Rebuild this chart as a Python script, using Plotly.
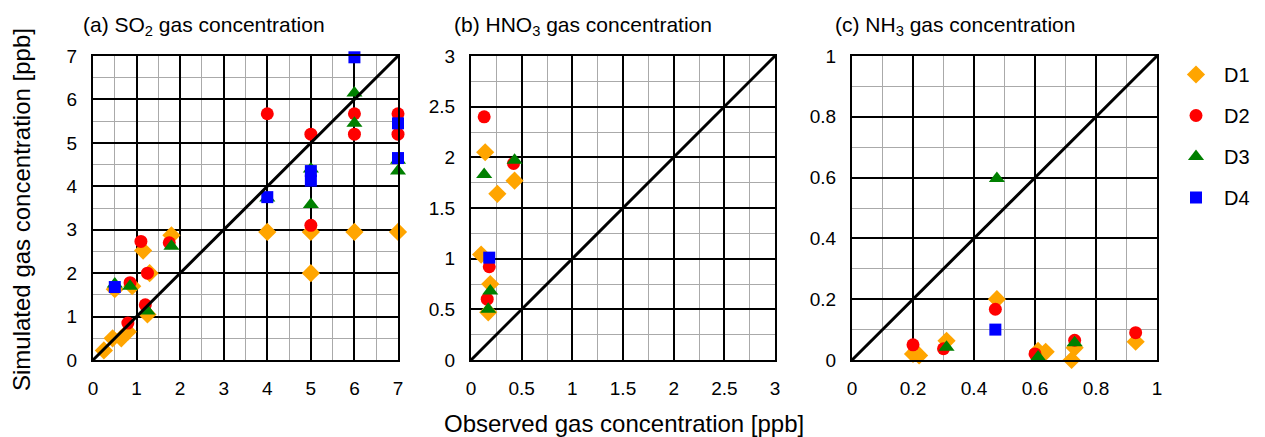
import plotly.graph_objects as go

# ---------------- data ----------------
series_names = ["D1", "D2", "D3", "D4"]
series_colors = ["#FFA500", "#FF0000", "#008000", "#0000FF"]
series_symbols = ["diamond", "circle", "triangle-up", "square"]
series_sizes = [14, 13, 14, 12]

# (a) SO2
so2_d1_x = [0.25, 0.45, 0.65, 0.8, 1.25, 1.3, 0.5, 0.9, 1.15, 1.8, 4, 5, 5, 6, 7]
so2_d1_y = [0.22, 0.5, 0.5, 0.65, 1.05, 2.0, 1.63, 1.7, 2.52, 2.87, 2.95, 2.95, 2.0, 2.95, 2.95]
so2_d2_x = [0.8, 1.2, 1.25, 0.85, 1.1, 1.75, 4, 5, 5, 6, 6, 7, 7]
so2_d2_y = [0.85, 1.27, 2.0, 1.78, 2.73, 2.7, 5.67, 5.2, 3.1, 5.67, 5.2, 5.67, 5.2]
so2_d3_x = [1.25, 0.5, 0.85, 1.8, 4, 5, 5, 6, 6, 7, 7]
so2_d3_y = [1.13, 1.75, 1.7, 2.62, 3.73, 4.4, 3.58, 6.15, 5.45, 4.6, 4.35]
so2_d4_x = [0.5, 4, 5, 5, 6, 7, 7]
so2_d4_y = [1.68, 3.75, 4.35, 4.13, 6.97, 5.45, 4.65]

# (b) HNO3
hno3_d1_x = [0.14, 0.43, 0.26, 0.1, 0.19, 0.17]
hno3_d1_y = [2.05, 1.77, 1.64, 1.04, 0.75, 0.47]
hno3_d2_x = [0.13, 0.42, 0.18, 0.16]
hno3_d2_y = [2.4, 1.94, 0.92, 0.6]
hno3_d3_x = [0.43, 0.13, 0.19, 0.17]
hno3_d3_y = [1.97, 1.83, 0.68, 0.5]
hno3_d4_x = [0.18]
hno3_d4_y = [1.01]

# (c) NH3
nh3_d1_x = [0.2, 0.22, 0.31, 0.475, 0.61, 0.635, 0.72, 0.73, 0.93]
nh3_d1_y = [0.02, 0.015, 0.063, 0.2, 0.03, 0.027, 0.0, 0.04, 0.06]
nh3_d2_x = [0.2, 0.3, 0.47, 0.6, 0.73, 0.93]
nh3_d2_y = [0.05, 0.037, 0.167, 0.02, 0.065, 0.09]
nh3_d3_x = [0.31, 0.475, 0.61, 0.73]
nh3_d3_y = [0.042, 0.597, 0.01, 0.057]
nh3_d4_x = [0.47]
nh3_d4_y = [0.1]

panel_titles = ["(a) SO<sub>2</sub> gas concentration",
                "(b) HNO<sub>3</sub> gas concentration",
                "(c) NH<sub>3</sub> gas concentration"]
panel_max = [7, 3, 1]
panel_major = [1, 0.5, 0.2]
panel_minor = [0.5, 0.25, 0.1]
x_title = "Observed gas concentration [ppb]"
y_title = "Simulated gas concentration [ppb]"

panels = [
    [(so2_d1_x, so2_d1_y), (so2_d2_x, so2_d2_y), (so2_d3_x, so2_d3_y), (so2_d4_x, so2_d4_y)],
    [(hno3_d1_x, hno3_d1_y), (hno3_d2_x, hno3_d2_y), (hno3_d3_x, hno3_d3_y), (hno3_d4_x, hno3_d4_y)],
    [(nh3_d1_x, nh3_d1_y), (nh3_d2_x, nh3_d2_y), (nh3_d3_x, nh3_d3_y), (nh3_d4_x, nh3_d4_y)],
]

# ---------------- layout geometry ----------------
W, H = 1265, 437
x_px = [(93, 398), (471, 775), (852, 1157)]
y_px = (56, 360)
title_left_px = [81, 452, 833]
FONT = "Liberation Sans, Arial, sans-serif"

fig = go.Figure()

for p in range(3):
    ax = "" if p == 0 else str(p + 1)
    xref = "x" + ax
    yref = "y" + ax
    for s in range(4):
        xs, ys = panels[p][s]
        fig.add_trace(go.Scatter(
            x=xs, y=ys, mode="markers", xaxis=xref, yaxis=yref,
            name=series_names[s], legendgroup=series_names[s],
            showlegend=(p == 0), cliponaxis=False,
            marker=dict(symbol=series_symbols[s], color=series_colors[s],
                        size=series_sizes[s], line=dict(width=0)),
            hoverinfo="x+y",
        ))
    # 1:1 line
    fig.add_trace(go.Scatter(
        x=[0, panel_max[p]], y=[0, panel_max[p]], mode="lines",
        xaxis=xref, yaxis=yref, showlegend=False, cliponaxis=False,
        line=dict(color="black", width=3), hoverinfo="skip",
    ))

    common = dict(
        range=[0, panel_max[p]], dtick=panel_major[p], tick0=0,
        showgrid=True, gridcolor="black", gridwidth=2,
        minor=dict(dtick=panel_minor[p], tick0=0, showgrid=True,
                   gridcolor="#AAAAAA", gridwidth=1, ticks=""),
        showline=True, linecolor="black", linewidth=2, mirror=True,
        ticks="", zeroline=False, ticklabelstandoff=10, automargin=False,
        tickfont=dict(family=FONT, size=19, color="black"),
        fixedrange=True,
    )
    fig.layout["xaxis" + ax] = dict(
        domain=[x_px[p][0] / W, x_px[p][1] / W], anchor=yref, **common)
    fig.layout["yaxis" + ax] = dict(
        domain=[1 - y_px[1] / H, 1 - y_px[0] / H], anchor=xref, **common)

    fig.add_annotation(
        text=panel_titles[p], xref="paper", yref="paper",
        x=title_left_px[p] / W, y=1 - 26 / H, xanchor="left", yanchor="middle",
        showarrow=False, font=dict(family=FONT, size=21, color="black"),
    )

fig.add_annotation(text=x_title, xref="paper", yref="paper",
                   x=624 / W, y=1 - 423 / H, xanchor="center", yanchor="middle",
                   showarrow=False, font=dict(family=FONT, size=24, color="black"))
fig.add_annotation(text=y_title, xref="paper", yref="paper",
                   x=21 / W, y=1 - 210 / H, xanchor="center", yanchor="middle",
                   textangle=-90, showarrow=False,
                   font=dict(family=FONT, size=24, color="black"))

fig.update_layout(
    width=W, height=H,
    margin=dict(l=0, r=0, t=0, b=0, autoexpand=False),
    paper_bgcolor="white", plot_bgcolor="white",
    showlegend=True,
    legend=dict(x=1168 / W, y=1 - 55 / H, xanchor="left", yanchor="top",
                font=dict(family=FONT, size=20, color="black"),
                tracegroupgap=12, itemwidth=46, bgcolor="rgba(0,0,0,0)"),
)

fig.write_html("out.html")
